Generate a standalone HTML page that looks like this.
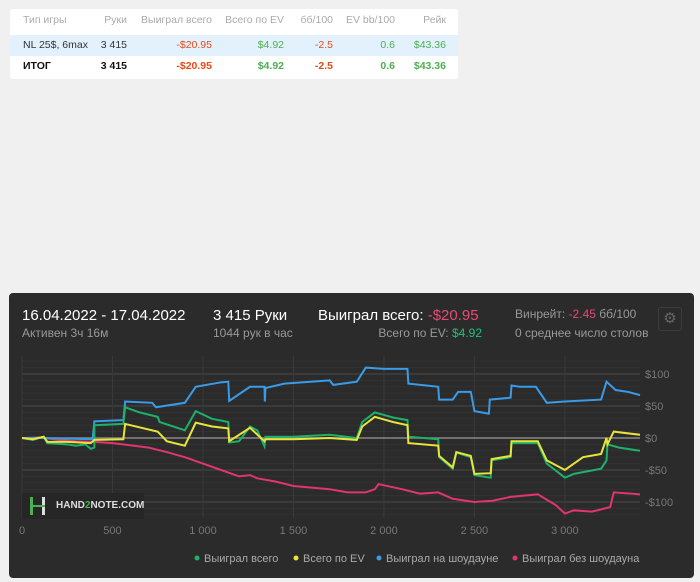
<!DOCTYPE html>
<html><head><meta charset="utf-8"><style>
body{margin:0;width:700px;height:582px;background:#f0f0f0;font-family:"Liberation Sans","DejaVu Sans",sans-serif;position:relative;overflow:hidden}
.tbl{position:absolute;left:10px;top:9px;width:448px;height:70px;background:#fff;border-radius:3px;font-size:10.5px}
.row{position:absolute;left:0;width:448px;height:20px;line-height:20px}
.c{position:absolute;text-align:right}
.g{color:#4caf50}.r{color:#e64a19}
.panel{position:absolute;left:9px;top:293px;width:685px;height:285px;background:#2b2b2b;border-radius:4px}
.t{position:absolute;white-space:nowrap}
</style></head><body>
<div class="tbl">
 <div class="row" style="top:1px;color:#aaa">
  <span class="c" style="left:13px;text-align:left">Тип игры</span>
  <span class="c" style="right:331px">Руки</span><span class="c" style="right:246px">Выиграл всего</span>
  <span class="c" style="right:174px">Всего по EV</span><span class="c" style="right:125px">бб/100</span>
  <span class="c" style="right:63px">EV bb/100</span><span class="c" style="right:12px">Рейк</span></div>
 <div class="row" style="top:26px;background:#e3f1fc;height:21px;color:#333">
  <span class="c" style="left:13px;text-align:left">NL 25$, 6max</span>
  <span class="c" style="right:331px">3 415</span><span class="c r" style="right:246px">-$20.95</span>
  <span class="c g" style="right:174px">$4.92</span><span class="c r" style="right:125px">-2.5</span>
  <span class="c g" style="right:63px">0.6</span><span class="c g" style="right:12px">$43.36</span></div>
 <div class="row" style="top:47px;font-weight:bold;color:#111">
  <span class="c" style="left:13px;text-align:left">ИТОГ</span>
  <span class="c" style="right:331px">3 415</span><span class="c r" style="right:246px">-$20.95</span>
  <span class="c g" style="right:174px">$4.92</span><span class="c r" style="right:125px">-2.5</span>
  <span class="c g" style="right:63px">0.6</span><span class="c g" style="right:12px">$43.36</span></div>
</div>
<div class="panel"></div>
<div class="t" style="left:22px;top:307px;color:#fff;font-size:15px">16.04.2022 - 17.04.2022</div>
<div class="t" style="left:22px;top:326px;color:#999;font-size:12px">Активен 3ч 16м</div>
<div class="t" style="left:213px;top:307px;color:#fff;font-size:15px">3 415 Руки</div>
<div class="t" style="left:213px;top:326px;color:#999;font-size:12px">1044 рук в час</div>
<div class="t" style="left:318px;top:307px;color:#fff;font-size:15px">Выиграл всего: <span style="color:#e94a74">-$20.95</span></div>
<div class="t" style="right:218px;top:326px;color:#999;font-size:12px">Всего по EV: <span style="color:#1fc17b">$4.92</span></div>
<div class="t" style="left:515px;top:307px;color:#999;font-size:12px">Винрейт: <span style="color:#e94a74">-2.45</span> бб/100</div>
<div class="t" style="left:515px;top:326px;color:#999;font-size:12px">0 среднее число столов</div>
<div class="t" style="left:658px;top:307px;width:22px;height:22px;border:1px solid #3c3c3c;border-radius:3px;color:#666;font-size:15px;text-align:center;line-height:22px">⚙</div>
<svg id="ch" style="position:absolute;left:0;top:0" width="700" height="582"></svg>
<div class="t" style="left:22px;top:493px;width:122px;height:26px;background:#262626">
 <span style="position:absolute;left:8px;top:4px;width:3px;height:18px;background:#4caf50"></span>
 <span style="position:absolute;left:20px;top:4px;width:3px;height:18px;background:#ddd"></span>
 <span style="position:absolute;left:8px;top:12px;width:15px;height:2px;background:#4caf50"></span>
 <span style="position:absolute;left:34px;top:7px;color:#ddd;font-size:10px;font-weight:bold">HAND<span style="color:#4caf50">2</span>NOTE.COM</span></div>
<script>
const xTicks=[0,500,1000,1500,2000,2500,3000];
const xLabels=["0","500","1 000","1 500","2 000","2 500","3 000"];
const yTicks=[100,50,0,-50,-100];
const yLabels=["$100","$50","$0","-$50","-$100"];
const greenH=[0,60,120,140,250,300,350,380,400,400,560,570,650,750,760,900,960,1050,1140,1145,1200,1260,1300,1340,1345,1500,1700,1850,1880,1950,2050,2130,2135,2300,2305,2380,2400,2480,2500,2590,2595,2700,2705,2850,2900,3000,3050,3200,3230,3235,3300,3415];
const greenV=[0,-3,2,-8,-10,-12,-10,-17,-15,20,22,48,40,33,25,12,42,30,25,-7,-5,18,12,-13,2,2,5,0,25,40,32,28,2,-2,-30,-48,-23,-30,-58,-62,-35,-30,-8,-8,-40,-62,-56,-48,-35,-10,-15,-20];
const yellowH=[0,60,120,140,250,380,400,560,570,750,800,900,960,1050,1140,1145,1260,1340,1345,1500,1700,1850,1880,1950,2050,2130,2135,2300,2305,2380,2400,2480,2500,2590,2595,2700,2705,2850,2900,3000,3100,3200,3230,3235,3270,3415];
const yellowV=[0,-2,2,-6,-6,-8,-3,-2,22,10,-5,-12,24,18,15,-5,16,-5,-2,-2,0,-3,18,33,25,20,-8,-12,-28,-46,-22,-28,-56,-55,-33,-28,-5,-5,-35,-50,-30,-25,0,-10,10,5];
const blueH=[0,100,390,400,560,570,720,740,900,960,1100,1140,1145,1260,1340,1342,1345,1450,1700,1720,1850,1900,2000,2130,2135,2300,2305,2380,2410,2480,2500,2580,2585,2700,2705,2750,2840,2900,3000,3200,3230,3280,3350,3415];
const blueV=[0,0,-2,26,28,57,55,48,55,80,87,88,58,80,80,57,78,85,90,83,88,110,108,108,85,80,60,60,72,72,42,38,60,63,82,80,80,55,57,60,88,75,72,67];
const redH=[0,100,200,300,400,500,560,700,800,900,1000,1100,1200,1260,1300,1400,1500,1700,1800,1900,1950,1970,2100,2200,2300,2380,2500,2600,2700,2850,2950,3000,3050,3150,3250,3270,3415];
const redV=[0,1,-3,-5,-6,-8,-10,-15,-22,-30,-40,-50,-60,-58,-63,-68,-75,-80,-85,-85,-80,-72,-80,-87,-85,-95,-100,-98,-92,-88,-105,-118,-113,-115,-108,-85,-88];
const X=h=>22+h*(618/3415), Y=v=>438-v*0.64;
const svg=document.getElementById('ch');
const NS='http://www.w3.org/2000/svg';
function add(tag,a){const e=document.createElementNS(NS,tag);for(const k in a)e.setAttribute(k,a[k]);svg.appendChild(e);return e;}
for(let v=-120;v<=120;v+=10){const l=add('line',{x1:22,x2:640,y1:Y(v),y2:Y(v),stroke:v%50===0?'#4a4a4a':'#333','stroke-width':1});

}
xTicks.forEach((t,i)=>{const l=add('line',{x1:X(t),x2:X(t),y1:356,y2:518,stroke:'#3a3a3a'});


const tx=add('text',{x:X(t),y:534,fill:'#777','font-size':11,'text-anchor':'middle','font-family':'Liberation Sans'});tx.textContent=xLabels[i];

});
yTicks.forEach((t,i)=>{const tx=add('text',{x:645,y:Y(t)+4,fill:'#777','font-size':11,'font-family':'Liberation Sans'});tx.textContent=yLabels[i];

});
const z=add('line',{x1:22,x2:640,y1:Y(0),y2:Y(0),stroke:'#888','stroke-width':1.5});


const series=[[redH,redV,'#e0356e','line-won-without-showdown'],[blueH,blueV,'#3a9be8','line-won-at-showdown'],[greenH,greenV,'#1db16a','line-won-total'],[yellowH,yellowV,'#e8e43a','line-ev']];
series.forEach(s=>{const p=add('polyline',{points:s[0].map((h,i)=>X(h)+','+Y(s[1][i])).join(' '),fill:'none',stroke:s[2],'stroke-width':2});

});
const leg=[['Выиграл всего','#1db16a',197],['Всего по EV','#e8e43a',296],['Выиграл на шоудауне','#3a9be8',379],['Выиграл без шоудауна','#e0356e',515]];
leg.forEach(l=>{const c=add('circle',{cx:l[2],cy:558,r:2.5,fill:l[1]});


const t=add('text',{x:l[2]+7,y:562,fill:'#aaa','font-size':11,'font-family':'Liberation Sans'});t.textContent=l[0];

});
</script>
</body></html>
